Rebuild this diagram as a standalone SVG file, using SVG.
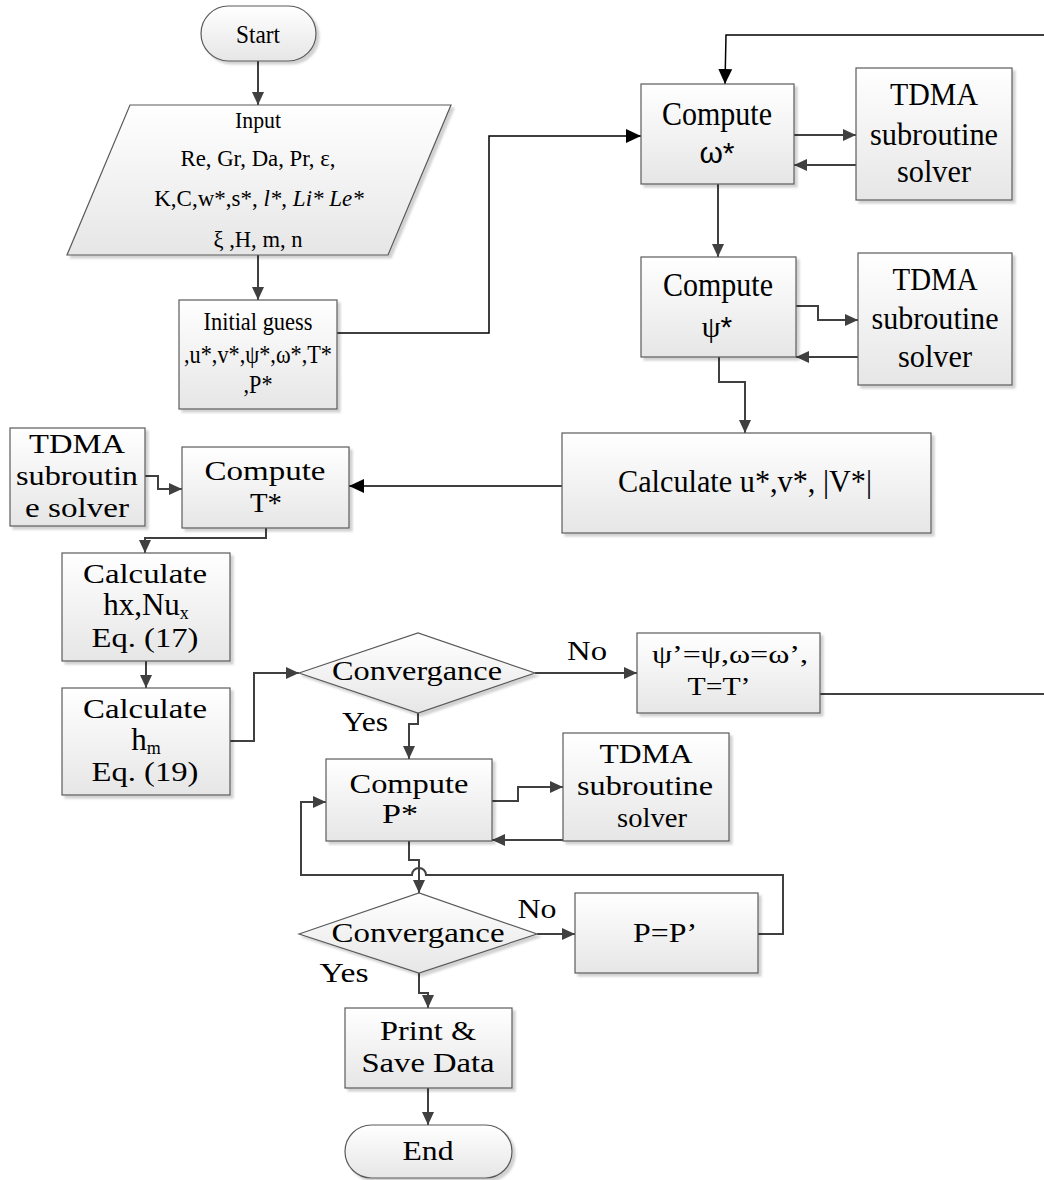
<svg xmlns="http://www.w3.org/2000/svg" width="1044" height="1180" viewBox="0 0 1044 1180">
<style>
.box{fill:url(#g);stroke:#5a5a5a;stroke-width:1.2;filter:url(#sh)}
.c{fill:none;stroke:#404040;stroke-width:2}
.k{fill:none;stroke:#000;stroke-width:1.5}
text{font-family:"Liberation Serif","Times New Roman",serif;fill:#000;text-anchor:middle}
.s{font-family:"Liberation Sans",Arial,sans-serif}
</style>
<defs>
<linearGradient id="g" x1="0" y1="0" x2="0" y2="1">
<stop offset="0" stop-color="#ffffff"/>
<stop offset="1" stop-color="#e6e6e6"/>
</linearGradient>
<filter id="sh" x="-10%" y="-10%" width="130%" height="130%">
<feDropShadow dx="3" dy="3" stdDeviation="1.2" flood-color="#000" flood-opacity="0.18"/>
</filter>
<marker id="a" markerUnits="userSpaceOnUse" markerWidth="14" markerHeight="12" refX="13" refY="6" orient="auto">
<path d="M0,0 L13,6 L0,12 z" fill="#404040"/>
</marker>
<marker id="b" markerUnits="userSpaceOnUse" markerWidth="16" markerHeight="14" refX="15" refY="7" orient="auto">
<path d="M0,0 L15,7 L0,14 z" fill="#000"/>
</marker>
</defs>
<rect width="1044" height="1180" fill="#fff"/>

<g id="connectors">
<path class="c" d="M258,61 V105" marker-end="url(#a)"/>
<path class="c" d="M258,255 V300" marker-end="url(#a)"/>
<path class="k" d="M337,333 H489 V136 H641" marker-end="url(#b)"/>
<path class="k" d="M1044,35 H726 L725,84" marker-end="url(#b)"/>
<path class="c" d="M794,135 H856" marker-end="url(#a)"/>
<path class="c" d="M856,165 H794" marker-end="url(#a)"/>
<path class="c" d="M718,184 V257" marker-end="url(#a)"/>
<path class="c" d="M796,306 H818 V320 H858" marker-end="url(#a)"/>
<path class="c" d="M858,357 H796" marker-end="url(#a)"/>
<path class="c" d="M719,357 V382 H745 V433" marker-end="url(#a)"/>
<path class="k" d="M562,486 H349" marker-end="url(#b)"/>
<path class="c" d="M145,476 H158 V489 H182" marker-end="url(#a)"/>
<path class="c" d="M266,528 V538 H145 V553" marker-end="url(#a)"/>
<path class="c" d="M146,661 V688" marker-end="url(#a)"/>
<path class="c" d="M230,741 H254 V673 H299" marker-end="url(#a)"/>
<path class="c" d="M535,673 H637" marker-end="url(#a)"/>
<path class="k" d="M820,694 H1044"/>
<path class="c" d="M418,713 V724 H409 V759" marker-end="url(#a)"/>
<path class="c" d="M492,801 H518 V787 H563" marker-end="url(#a)"/>
<path class="c" d="M563,840 H492" marker-end="url(#a)"/>
<path class="c" d="M409,841 V860 H419 V893" marker-end="url(#a)"/>
<path class="c" d="M758,934 H783 V875 H426 A7,7 0 0 0 412,875 H301 V802 H326" marker-end="url(#a)"/>
<path class="c" d="M537,934 H575" marker-end="url(#a)"/>
<path class="c" d="M419,973 V993 H428 V1008" marker-end="url(#a)"/>
<path class="c" d="M428,1088 V1125" marker-end="url(#a)"/>
</g>

<g id="start">
<rect class="box" x="201" y="6" width="115" height="55" rx="27.5"/>
<text x="258" y="43" font-size="25" textLength="44" lengthAdjust="spacingAndGlyphs">Start</text>
</g>

<g id="input">
<polygon class="box" points="130,105 451,105 388,255 67,255"/>
<text x="258" y="128" font-size="24" textLength="46" lengthAdjust="spacingAndGlyphs">Input</text>
<text x="258" y="166" font-size="24" textLength="155" lengthAdjust="spacingAndGlyphs">Re, Gr, Da, Pr, ε,</text>
<text x="259" y="206" font-size="23">K,C,w*,s*, <tspan font-style="italic">l*</tspan>, <tspan font-style="italic">Li* Le*</tspan></text>
<text x="258" y="247" font-size="24" textLength="89" lengthAdjust="spacingAndGlyphs">ξ ,H, m, n</text>
</g>

<g id="initial">
<rect class="box" x="179" y="300" width="158" height="109"/>
<text x="258" y="330" font-size="25" textLength="109" lengthAdjust="spacingAndGlyphs">Initial guess</text>
<text x="258" y="363" font-size="25" textLength="148" lengthAdjust="spacingAndGlyphs">,u*,v*,ψ*,ω*,T*</text>
<text x="258" y="393" font-size="25" textLength="29" lengthAdjust="spacingAndGlyphs">,P*</text>
</g>

<g id="compute-omega">
<rect class="box" x="641" y="84" width="153" height="100"/>
<text x="717" y="125" font-size="33" textLength="110" lengthAdjust="spacingAndGlyphs">Compute</text>
<text class="s" x="717" y="163" font-size="30">ω*</text>
</g>

<g id="tdma-omega">
<rect class="box" x="856" y="68" width="156" height="132"/>
<text x="934" y="105" font-size="32" textLength="88" lengthAdjust="spacingAndGlyphs">TDMA</text>
<text x="934" y="145" font-size="32" textLength="128" lengthAdjust="spacingAndGlyphs">subroutine</text>
<text x="934" y="182" font-size="32" textLength="74" lengthAdjust="spacingAndGlyphs">solver</text>
</g>

<g id="compute-psi">
<rect class="box" x="641" y="257" width="155" height="100"/>
<text x="718" y="296" font-size="33" textLength="110" lengthAdjust="spacingAndGlyphs">Compute</text>
<text x="717" y="337" font-size="30">ψ<tspan class="s">*</tspan></text>
</g>

<g id="tdma-psi">
<rect class="box" x="858" y="253" width="154" height="132"/>
<text x="935" y="290" font-size="32" textLength="85" lengthAdjust="spacingAndGlyphs">TDMA</text>
<text x="935" y="329" font-size="32" textLength="127" lengthAdjust="spacingAndGlyphs">subroutine</text>
<text x="935" y="367" font-size="32" textLength="74" lengthAdjust="spacingAndGlyphs">solver</text>
</g>

<g id="calculate-uv">
<rect class="box" x="562" y="433" width="369" height="100"/>
<text x="745" y="492" font-size="32" textLength="254" lengthAdjust="spacingAndGlyphs">Calculate u*,v*, |V*|</text>
</g>

<g id="tdma-t">
<rect class="box" x="10" y="428" width="135" height="98"/>
<text x="77" y="453" font-size="28" textLength="96" lengthAdjust="spacingAndGlyphs">TDMA</text>
<text x="77" y="485" font-size="28" textLength="122" lengthAdjust="spacingAndGlyphs">subroutin</text>
<text x="77" y="517" font-size="28" textLength="104" lengthAdjust="spacingAndGlyphs">e solver</text>
</g>

<g id="compute-t">
<rect class="box" x="182" y="447" width="167" height="81"/>
<text x="265" y="480" font-size="28" textLength="121" lengthAdjust="spacingAndGlyphs">Compute</text>
<text x="266" y="512" font-size="28" textLength="32" lengthAdjust="spacingAndGlyphs">T*</text>
</g>

<g id="calculate-hx">
<rect class="box" x="62" y="553" width="168" height="108"/>
<text x="145" y="583" font-size="28" textLength="124" lengthAdjust="spacingAndGlyphs">Calculate</text>
<text x="146" y="615" font-size="31">hx,Nu<tspan font-size="18" dy="4">x</tspan></text>
<text x="145" y="647" font-size="28" textLength="107" lengthAdjust="spacingAndGlyphs">Eq. (17)</text>
</g>

<g id="calculate-hm">
<rect class="box" x="62" y="688" width="168" height="107"/>
<text x="145" y="718" font-size="28" textLength="124" lengthAdjust="spacingAndGlyphs">Calculate</text>
<text x="146" y="750" font-size="31">h<tspan font-size="18" dy="4">m</tspan></text>
<text x="145" y="781" font-size="28" textLength="107" lengthAdjust="spacingAndGlyphs">Eq. (19)</text>
</g>

<g id="convergence-1">
<polygon class="box" points="299,673 418,633 535,673 418,713"/>
<text x="417" y="680" font-size="27" textLength="170" lengthAdjust="spacingAndGlyphs">Convergance</text>
<text x="587" y="660" font-size="27" textLength="40" lengthAdjust="spacingAndGlyphs">No</text>
<text x="365" y="731" font-size="27" textLength="46" lengthAdjust="spacingAndGlyphs">Yes</text>
</g>

<g id="update-psi">
<rect class="box" x="637" y="633" width="183" height="80"/>
<text x="730" y="663" font-size="25" textLength="156" lengthAdjust="spacingAndGlyphs">ψ’=ψ,ω=ω’,</text>
<text x="719" y="695" font-size="25" textLength="63" lengthAdjust="spacingAndGlyphs">T=T’</text>
</g>

<g id="compute-p">
<rect class="box" x="326" y="759" width="166" height="82"/>
<text x="409" y="793" font-size="27" textLength="119" lengthAdjust="spacingAndGlyphs">Compute</text>
<text x="400" y="823" font-size="27" textLength="36" lengthAdjust="spacingAndGlyphs">P*</text>
</g>

<g id="tdma-p">
<rect class="box" x="563" y="733" width="166" height="108"/>
<text x="646" y="763" font-size="27" textLength="93" lengthAdjust="spacingAndGlyphs">TDMA</text>
<text x="645" y="795" font-size="27" textLength="136" lengthAdjust="spacingAndGlyphs">subroutine</text>
<text x="652" y="827" font-size="27" textLength="70" lengthAdjust="spacingAndGlyphs">solver</text>
</g>

<g id="convergence-2">
<polygon class="box" points="299,934 419,893 537,934 419,973"/>
<text x="418" y="942" font-size="27" textLength="173" lengthAdjust="spacingAndGlyphs">Convergance</text>
<text x="537" y="918" font-size="27" textLength="39" lengthAdjust="spacingAndGlyphs">No</text>
<text x="344" y="982" font-size="27" textLength="49" lengthAdjust="spacingAndGlyphs">Yes</text>
</g>

<g id="p-update">
<rect class="box" x="575" y="893" width="183" height="80"/>
<text x="665" y="942" font-size="27" textLength="64" lengthAdjust="spacingAndGlyphs">P=P’</text>
</g>

<g id="print">
<rect class="box" x="345" y="1008" width="167" height="80"/>
<text x="428" y="1040" font-size="27" textLength="96" lengthAdjust="spacingAndGlyphs">Print &amp;</text>
<text x="428" y="1072" font-size="27" textLength="133" lengthAdjust="spacingAndGlyphs">Save Data</text>
</g>

<g id="end">
<rect class="box" x="345" y="1125" width="167" height="53" rx="26.5"/>
<text x="428" y="1160" font-size="27" textLength="51" lengthAdjust="spacingAndGlyphs">End</text>
</g>
</svg>
